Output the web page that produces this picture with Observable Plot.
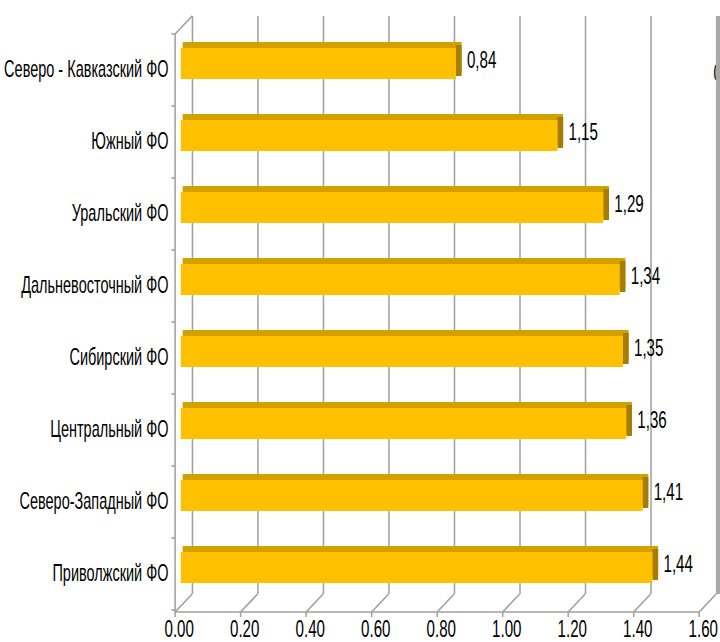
<!DOCTYPE html>
<html>
<head>
<meta charset="utf-8">
<script src="https://cdn.jsdelivr.net/npm/d3@7"></script>
<script src="https://cdn.jsdelivr.net/npm/@observablehq/plot@0.6"></script>
<style>
  body { margin: 0; background: #fff; }
</style>
</head>
<body>
<div id="chart"></div>
<script>
// Federal districts and their index values
const districts = [
  "Северо - Кавказский ФО",
  "Южный ФО",
  "Уральский ФО",
  "Дальневосточный ФО",
  "Сибирский ФО",
  "Центральный ФО",
  "Северо-Западный ФО",
  "Приволжский ФО"
];
const values = [0.84, 1.15, 1.29, 1.34, 1.35, 1.36, 1.41, 1.44];
const xTicks = [0, 0.2, 0.4, 0.6, 0.8, 1.0, 1.2, 1.4, 1.6];
const strayLabel = ["0"];

const data = districts.map((district, i) => ({
  district,
  value: values[i],
  label: values[i].toFixed(2).replace(".", ",")
}));

// Laid out on a wide canvas, then condensed horizontally into 720px
const W = 1143, H = 642, OUT_W = 720;
const depthX = 27, depthY = -18;          // 3-D depth of the plot box
const font = "'Liberation Sans', Arial, sans-serif";
const gridColor = "#a0a0a0";

const front = "#ffc000", topFace = "#d2a100", sideFace = "#a67d00";
const barInset = {insetTop: 13, insetBottom: 28};
const mTop = 34, mBottom = 30;

const plot = Plot.plot({
  width: W,
  height: H,
  marginLeft: 278,
  marginRight: 33,
  marginTop: mTop,
  marginBottom: mBottom,
  style: {fontFamily: font, background: "#fff", color: "#000"},
  x: {domain: [0, 1.6], axis: null},
  y: {domain: districts, axis: null, padding: 0},
  marks: [
    // clipped label at the right edge
    Plot.text(strayLabel, {frameAnchor: "top-right", dx: 22, dy: 30, fontSize: 23, textAnchor: "start", text: d => d}),
    // gridlines on the back wall
    Plot.ruleX(xTicks.slice(0, -1), {dx: depthX, dy: depthY, stroke: gridColor, strokeWidth: 2.4}),
    Plot.ruleX(xTicks.slice(-1), {dx: depthX + 3, dy: depthY, stroke: "#a8a8a8", strokeWidth: 8}),
    // extruded bars: top face, side face, front face
    Plot.barX(data, {x1: 0, x2: "value", y: "district", ...barInset, insetLeft: 3, insetRight: -9, dx: 9, dy: -6, fill: topFace}),
    Plot.barX(data, {x1: "value", x2: "value", y: "district", ...barInset, insetRight: -9, dx: 9, dy: -3, fill: sideFace}),
    Plot.barX(data, {x1: 0, x2: "value", y: "district", ...barInset, dx: 9, fill: front}),
    // value labels
    Plot.text(data, {x: "value", y: "district", text: "label", textAnchor: "start", dx: 26, dy: -11, fontSize: 24}),
    // category labels
    Plot.text(data, {frameAnchor: "left", y: "district", text: "district", textAnchor: "end", dx: -11, dy: -2, fontSize: 23}),
    // x tick labels
    Plot.text(xTicks, {x: d => d, frameAnchor: "bottom", lineAnchor: "top", dy: 7, dx: 6, text: d => d.toFixed(2), fontSize: 24})
  ]
});

// Front edges of the 3-D box: axis lines, floor diagonals, category ticks
const xs = plot.scale("x"), ys = plot.scale("y");
const x = v => xs.apply(v);
const yBottom = H - mBottom, yTop = mTop;
const frame = d3.select(plot).insert("g", "g")
  .attr("stroke", gridColor)
  .attr("fill", "none");

frame.append("line").attr("x1", x(0)).attr("x2", x(1.6)).attr("y1", yBottom).attr("y2", yBottom).attr("stroke-width", 1.5);
frame.append("line").attr("x1", x(0)).attr("x2", x(0)).attr("y1", yTop).attr("y2", yBottom).attr("stroke-width", 2.4);
frame.append("line").attr("x1", x(0)).attr("x2", x(0) + depthX).attr("y1", yTop).attr("y2", yTop + depthY).attr("stroke-width", 2);
for (const t of xTicks) {
  frame.append("line").attr("x1", x(t)).attr("x2", x(t) + depthX).attr("y1", yBottom).attr("y2", yBottom + depthY).attr("stroke-width", 2);
  frame.append("line").attr("x1", x(t)).attr("x2", x(t)).attr("y1", yBottom).attr("y2", yBottom + 5).attr("stroke-width", 2.4);
}
const bw = ys.bandwidth;
for (let k = 0; k <= districts.length; k++) {
  const yk = yTop + k * bw;
  frame.append("line").attr("x1", x(0) - 6).attr("x2", x(0)).attr("y1", yk).attr("y2", yk).attr("stroke-width", 1.5);
}

// condense horizontally into the page width
plot.setAttribute("width", OUT_W);
plot.setAttribute("height", H);
plot.setAttribute("viewBox", `0 0 ${W} ${H}`);
plot.setAttribute("preserveAspectRatio", "none");
plot.style.maxWidth = "none";
plot.style.width = OUT_W + "px";
plot.style.height = H + "px";

document.getElementById("chart").appendChild(plot);
</script>
</body>
</html>
